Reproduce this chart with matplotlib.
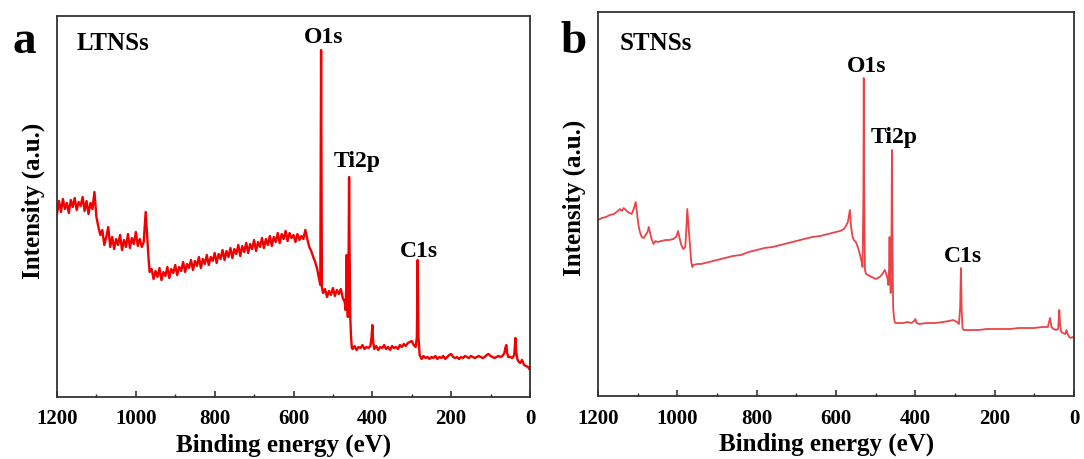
import matplotlib
matplotlib.use("Agg")
import matplotlib.pyplot as plt
from matplotlib.ticker import MultipleLocator

plt.rcParams["font.family"] = ["Liberation Serif", "DejaVu Serif"]
plt.rcParams["font.weight"] = "bold"

# ---- LTNSs survey spectrum (binding energy in eV, intensity in a.u.) ----
ltns_energy = [
    1200, 1195, 1190, 1185, 1180, 1175, 1170, 1165, 1160, 1155, 1150, 1145, 1140, 1135, 1130,
    1125, 1120, 1115, 1110, 1105, 1100, 1095, 1090, 1085, 1080, 1075, 1070, 1065, 1060, 1055,
    1050, 1045, 1040, 1035, 1030, 1025, 1020, 1015, 1010, 1005, 1000, 995, 990, 985, 980,
    975, 972, 968, 965, 960, 955, 950, 945, 940, 935, 930, 925, 920, 915, 910, 905, 900, 895,
    890, 885, 880, 875, 870, 865, 860, 855, 850, 845, 840, 835, 830, 825, 820, 815, 810, 805,
    800, 795, 790, 785, 780, 775, 770, 765, 760, 755, 750, 745, 740, 735, 730, 725, 720, 715,
    710, 705, 700, 695, 690, 685, 680, 675, 670, 665, 660, 655, 650, 645, 640, 635, 630, 625,
    620, 615, 610, 605, 600, 595, 590, 585, 580, 575, 570, 565, 560, 555, 550, 545, 540, 535,
    532, 530, 528, 525, 520, 515, 510, 505, 500, 495, 490, 485, 480, 475, 470, 468, 466, 465,
    464, 462, 460, 459, 458, 456, 454, 452, 450, 445, 440, 435, 430, 425, 420, 415, 410, 405,
    402, 400, 398, 395, 390, 385, 380, 375, 370, 365, 360, 355, 350, 345, 340, 335, 330, 325,
    320, 315, 310, 305, 300, 295, 290, 287, 285, 283, 280, 275, 270, 265, 260, 255, 250, 245,
    240, 235, 230, 225, 220, 215, 210, 205, 200, 195, 190, 185, 180, 175, 170, 165, 160, 155,
    150, 145, 140, 135, 130, 125, 120, 115, 110, 105, 100, 95, 90, 85, 80, 75, 70, 65, 62, 60,
    58, 55, 50, 45, 40, 37, 35, 32, 30, 25, 20, 18, 15, 10, 5, 2, 0,
]
ltns_intensity = [
    183, 196, 185, 198, 188, 194, 184, 197, 190, 199, 187, 195, 191, 200, 186,
    196, 183, 194, 188, 205, 180, 170, 162, 167, 152, 160, 170, 150, 160, 148,
    158, 152, 162, 147, 157, 150, 163, 149, 159, 153, 165, 151, 158, 150, 155,
    185, 165, 140, 125, 128, 118, 126, 120, 129, 117, 125, 121, 130, 119, 128, 124, 132, 122,
    130, 126, 135, 125, 133, 129, 137, 127, 136, 131, 140, 129, 138, 133, 142, 132, 140, 136,
    144, 134, 143, 138, 147, 137, 146, 140, 149, 139, 148, 143, 152, 141, 151, 145, 154, 144,
    153, 148, 157, 146, 155, 150, 159, 149, 158, 152, 161, 151, 160, 155, 164, 154, 163, 158,
    166, 156, 164, 159, 162, 155, 163, 157, 161, 158, 167, 158, 150, 146, 140, 135, 128, 118,
    112, 347, 110, 104, 108, 100, 106, 102, 109, 101, 107, 103, 108, 99, 95, 87, 110, 142,
    95, 80, 150, 220, 160, 80, 60, 49, 48, 51, 47, 50, 49, 52, 48, 50, 49, 51,
    60, 72, 55, 48, 51, 47, 50, 49, 52, 48, 50, 47, 51, 49, 50, 48, 52, 50,
    53, 51, 54, 55, 56, 52, 50, 60, 137, 60, 42, 38, 41, 39, 40, 38, 40, 39,
    41, 38, 40, 39, 41, 38, 40, 42, 43, 40, 39, 40, 38, 40, 39, 41, 40, 39,
    41, 40, 39, 40, 41, 40, 39, 40, 42, 43, 41, 40, 39, 40, 41, 40, 41, 44, 50, 52,
    44, 40, 40, 39, 42, 59, 45, 38, 36, 34, 37, 35, 32, 31, 30, 28, 29,
]

# ---- STNSs survey spectrum ----
stns_energy = [
    1200, 1190, 1180, 1170, 1160, 1150, 1145, 1140, 1135, 1130, 1125, 1120, 1115, 1110, 1105,
    1102, 1098, 1095, 1090, 1085, 1080, 1075, 1072, 1068, 1065, 1060, 1055, 1050, 1040, 1030,
    1020, 1010, 1003, 998, 995, 990, 985, 980, 977, 975, 972, 968, 965, 962, 960, 950, 940,
    920, 900, 880, 860, 840, 820, 800, 780, 760, 740, 720, 700, 680, 660, 640, 620, 600, 590,
    580, 575, 570, 567, 565, 562, 558, 555, 550, 545, 540, 537, 535, 533, 531, 530, 529, 527,
    524, 520, 510, 500, 490, 485, 480, 477, 474, 470, 468, 466, 465, 464, 462, 460, 459, 458,
    456, 454, 452, 450, 440, 430, 420, 410, 403, 400, 397, 390, 370, 350, 330, 315, 305, 300,
    295, 290, 287, 285, 283, 281, 278, 260, 240, 220, 200, 180, 160, 140, 120, 100, 80, 66,
    63, 60, 57, 52, 45, 40, 37, 35, 32, 28, 22, 19, 16, 12, 8, 4, 0,
]
stns_intensity = [
    177, 179, 180, 182, 183, 186, 188, 186, 189, 187, 185, 184, 183, 188, 195,
    185, 172, 166, 160, 159, 162, 165, 170, 163, 158, 153, 156, 155, 156, 157,
    157, 158, 160, 166, 160, 152, 148, 150, 170, 188, 172, 150, 135, 130, 132, 133, 133,
    135, 137, 139, 141, 142, 145, 147, 149, 150, 152, 154, 156, 158, 160, 161, 163, 165, 166,
    168, 171, 175, 182, 187, 170, 160, 157, 155, 150, 143, 138, 134, 130, 200, 319, 210, 127,
    123, 122, 120, 118, 120, 122, 125, 127, 124, 118, 112, 130, 160, 125, 104, 170, 247, 180,
    90, 80, 75, 74, 74, 74, 75, 74, 76, 78, 74, 73, 74, 74, 75, 76, 77, 76,
    75, 73, 90, 129, 85, 69, 67, 67, 67, 68, 68, 68, 68, 69, 69, 69, 70, 70,
    75, 79, 70, 68, 67, 68, 87, 72, 65, 64, 63, 67, 63, 60, 59, 60, 59,
]

# Peak assignments: (label, x position in eV, y position in a.u.)
ltns_peaks = [("O1s", 523, 354), ("Ti2p", 439, 230), ("C1s", 282, 140)]
stns_peaks = [("O1s", 524, 325), ("Ti2p", 454, 254), ("C1s", 280, 135)]

W, H = 1084, 459
fig = plt.figure(figsize=(W / 100, H / 100), dpi=100)

panels = [
    dict(rect=(57, 16, 530, 397), energy=ltns_energy, inten=ltns_intensity, color="#f00000",
         lw=1.7, ylim=(0, 381), name="LTNSs", peaks=ltns_peaks, letter="a", lx=12, nx=77),
    dict(rect=(598, 12, 1074, 396), energy=stns_energy, inten=stns_intensity, color="#ea4448",
         lw=1.3, ylim=(1, 385), name="STNSs", peaks=stns_peaks, letter="b", lx=560, nx=620),
]

for p in panels:
    x0, y0, x1, y1 = p["rect"]
    ax = fig.add_axes([x0 / W, 1 - y1 / H, (x1 - x0) / W, (y1 - y0) / H])
    ax.plot(p["energy"], p["inten"], color=p["color"], lw=p["lw"])
    ax.set_xlim(1200, 0)
    ax.set_ylim(*p["ylim"])
    ax.xaxis.set_major_locator(MultipleLocator(200))
    ax.xaxis.set_minor_locator(MultipleLocator(100))
    ax.set_yticks([])
    ax.tick_params(axis="x", which="major", direction="in", length=4, width=1.1,
                   labelsize=15, pad=9, top=False, colors="#222222")
    ax.tick_params(axis="x", which="minor", direction="in", length=2.5, width=1.0, top=False,
                   colors="#222222")
    for lab in ax.get_xticklabels():
        lab.set_fontweight("bold")
        lab.set_color("black")
    for s in ax.spines.values():
        s.set_linewidth(1.3)
        s.set_color("#333333")
    ax.set_xlabel("Binding energy (eV)", fontsize=18, fontweight="bold", labelpad=4)
    ax.xaxis.set_label_coords(0.48, -0.095)
    ax.set_ylabel("Intensity (a.u.)", fontsize=18, fontweight="bold", labelpad=5)
    ax.yaxis.set_label_coords(-0.025, 0.515)
    for label, ex, ey in p["peaks"]:
        ax.text(ex, ey, label, fontsize=17, fontweight="bold", ha="center", va="baseline")
    fig.text(p["nx"] / W, 1 - 50 / H, p["name"], fontsize=18, fontweight="bold",
             ha="left", va="baseline")
    fig.text(p["lx"] / W, 1 - 53 / H, p["letter"], fontsize=34, fontweight="bold",
             ha="left", va="baseline")

fig.savefig("out.png", dpi=100, facecolor="white")
